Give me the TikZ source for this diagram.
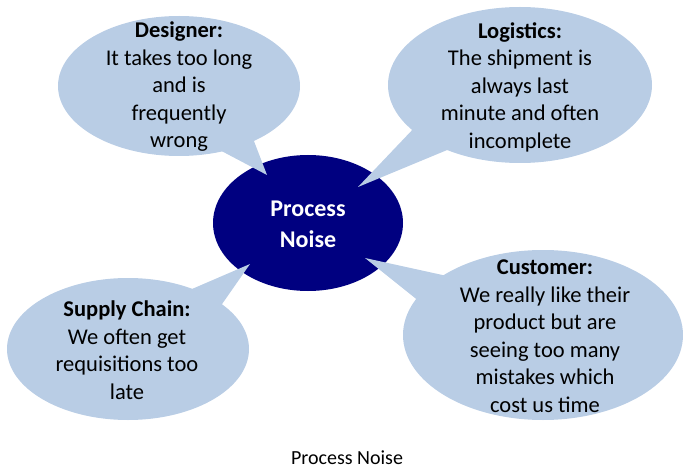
\documentclass[tikz,border=0pt]{standalone}
\usepackage{fontspec}
\setmainfont{Carlito}
\begin{document}
\begin{tikzpicture}[x=1pt,y=-1pt,
  bubblefill/.style={fill=bubble},
  saytext/.style={align=center,inner sep=0pt,text=black,
    font=\fontsize{22.5}{27.5}\selectfont},
  coretext/.style={align=center,inner sep=0pt,text=white,
    font=\fontsize{24}{31}\selectfont\bfseries},
  captext/.style={inner sep=0pt,font=\fontsize{20}{24}\selectfont}]
\definecolor{bubble}{HTML}{B9CDE5}
\definecolor{core}{HTML}{000080}
\useasboundingbox (0,0) rectangle (683,468);

% central topic
\fill[core] (308,223) ellipse [x radius=95, y radius=68];
\node[coretext] (core) at (308,224) {Process\\Noise};

% pointer tips resting on the central ellipse
\coordinate (tipD) at (267,175);
\coordinate (tipL) at (358,187);
\coordinate (tipS) at (250,264);
\coordinate (tipC) at (365,258);

% speech bubbles: body ellipse plus a triangular pointer
\fill[bubblefill] (179,86) ellipse [x radius=121, y radius=70];
\fill[bubblefill] (212,146) -- (tipD) -- (252,136) -- cycle;
\node[saytext] (designer) at (179,87)
  {\textbf{Designer:}\\It takes too long\\and is\\frequently\\wrong};

\fill[bubblefill] (520,85) ellipse [x radius=132, y radius=78];
\fill[bubblefill] (416,126) -- (tipL) -- (452,148) -- cycle;
\node[saytext] (logistics) at (520,87)
  {\textbf{Logistics:}\\The shipment is\\always last\\minute and often\\incomplete};

\fill[bubblefill] (128,349) ellipse [x radius=121, y radius=71];
\fill[bubblefill] (185,292) -- (tipS) -- (220,307) -- cycle;
\node[saytext] (supply) at (127,350)
  {\textbf{Supply Chain:}\\We often get\\requisitions too\\late};

\fill[bubblefill] (543,335) ellipse [x radius=140, y radius=85];
\fill[bubblefill] (447,276) -- (tipC) -- (420,302) -- cycle;
\node[saytext] (customer) at (545,336)
  {\textbf{Customer:}\\We really like their\\product but are\\seeing too many\\mistakes which\\cost us time};

% caption
\node[captext] (caption) at (347,458) {Process Noise};
\end{tikzpicture}
\end{document}
